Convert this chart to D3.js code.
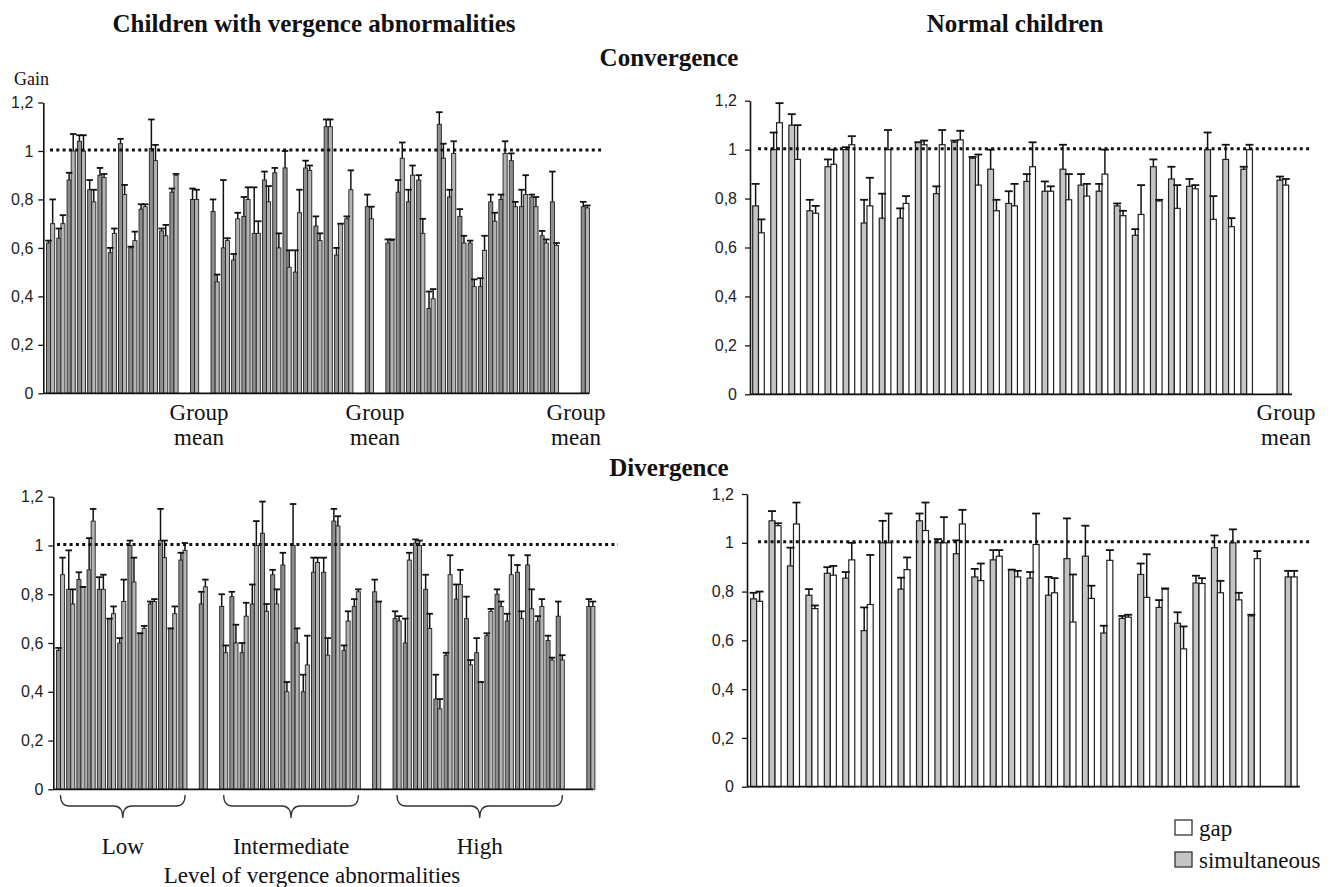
<!DOCTYPE html>
<html>
<head>
<meta charset="utf-8">
<script src="https://cdn.jsdelivr.net/npm/d3@7"></script>
<style>
    body { margin: 0; background: #fff; }
    svg { display: block; }
    .serif { font-family: "Liberation Serif", "Times New Roman", serif; fill: #111; }
    .assi text { font-family: "Liberation Sans", Arial, sans-serif; fill: #222; }
</style>
</head>
<body>
<svg id="grafico"></svg>
<script>
"use strict"
// gruppi dei bambini con anomalie di vergenza
const gruppi = ["Low", "Intermediate", "High"];
const numSoggetti = [13, 14, 17];
const tickY = [0, 0.2, 0.4, 0.6, 0.8, 1, 1.2];

// convergenza, bambini con anomalie (ogni gruppo seguito dalla sua media)
const convAnomSim = [0.62, 0.64, 0.88, 1.04, 0.84, 0.90, 0.58, 1.03, 0.60, 0.76, 1.01, 0.67, 0.83, 0.80,
    0.75, 0.60, 0.55, 0.73, 0.66, 0.88, 0.91, 0.93, 0.50, 0.93, 0.69, 1.10, 0.57, 0.72, 0.77,
    0.62, 0.83, 0.79, 0.88, 0.35, 1.11, 0.81, 0.73, 0.62, 0.44, 0.79, 0.80, 0.96, 0.77, 0.81, 0.65, 0.79, 0.77];
const convAnomSimErr = [0.63, 0.68, 0.91, 1.065, 0.88, 0.93, 0.60, 1.05, 0.605, 0.78, 1.13, 0.68, 0.845, 0.845,
    0.80, 0.88, 0.575, 0.81, 0.85, 0.915, 0.93, 1.0, 0.59, 0.96, 0.73, 1.13, 0.60, 0.73, 0.82,
    0.635, 0.88, 0.84, 0.90, 0.42, 1.16, 0.84, 0.76, 0.63, 0.475, 0.82, 0.82, 0.99, 0.84, 0.82, 0.67, 0.915, 0.79];
const convAnomGap = [0.70, 0.70, 1.0, 1.0, 0.79, 0.89, 0.66, 0.82, 0.63, 0.77, 0.96, 0.65, 0.90, 0.80,
    0.46, 0.63, 0.72, 0.80, 0.66, 0.79, 0.60, 0.52, 0.745, 0.92, 0.63, 1.10, 0.70, 0.84, 0.72,
    0.63, 0.97, 0.90, 0.66, 0.39, 0.97, 0.99, 0.62, 0.44, 0.59, 0.71, 0.99, 0.77, 0.82, 0.77, 0.62, 0.61, 0.765];
const convAnomGapErr = [0.80, 0.735, 1.07, 1.065, 0.84, 0.905, 0.68, 0.86, 0.667, 0.78, 1.025, 0.695, 0.905, 0.84,
    0.49, 0.64, 0.745, 0.85, 0.71, 0.855, 0.66, 0.59, 0.84, 0.94, 0.66, 1.13, 0.70, 0.92, 0.77,
    0.635, 1.035, 0.94, 0.72, 0.43, 1.03, 1.04, 0.65, 0.47, 0.65, 0.745, 1.04, 0.79, 0.90, 0.81, 0.635, 0.62, 0.775];

// divergenza, bambini con anomalie
const divAnomSim = [0.57, 0.82, 0.86, 0.90, 0.82, 0.70, 0.60, 1.0, 0.64, 0.76, 1.02, 0.66, 0.94, 0.76,
    0.75, 0.79, 0.56, 0.76, 1.05, 0.88, 0.92, 1.0, 0.40, 0.89, 0.89, 1.10, 0.57, 0.75, 0.81,
    0.70, 0.60, 1.01, 0.82, 0.37, 0.55, 0.78, 0.70, 0.56, 0.63, 0.80, 0.69, 0.89, 0.92, 0.69, 0.61, 0.71, 0.75];
const divAnomSimErr = [0.58, 0.98, 0.89, 1.03, 0.87, 0.70, 0.62, 1.02, 0.64, 0.77, 1.15, 0.66, 0.97, 0.81,
    0.80, 0.81, 0.60, 0.84, 1.18, 0.90, 0.97, 1.17, 0.47, 0.95, 0.95, 1.15, 0.59, 0.78, 0.86,
    0.73, 0.70, 1.025, 0.88, 0.47, 0.56, 0.84, 0.79, 0.62, 0.64, 0.82, 0.72, 0.92, 0.96, 0.71, 0.63, 0.77, 0.78];
const divAnomGap = [0.88, 0.76, 0.83, 1.10, 0.82, 0.72, 0.77, 0.85, 0.66, 0.77, 0.95, 0.72, 0.98, 0.83,
    0.56, 0.60, 0.71, 1.0, 0.73, 0.76, 0.40, 0.60, 0.51, 0.93, 0.55, 1.08, 0.69, 0.81, 0.77,
    0.69, 0.94, 1.0, 0.66, 0.33, 0.88, 0.84, 0.51, 0.44, 0.73, 0.75, 0.88, 0.70, 0.74, 0.75, 0.53, 0.53, 0.75];
const divAnomGapErr = [0.95, 0.82, 0.83, 1.15, 0.88, 0.75, 0.86, 0.95, 0.67, 0.78, 1.02, 0.75, 1.01, 0.86,
    0.59, 0.675, 0.765, 1.10, 0.76, 0.82, 0.44, 0.66, 0.63, 0.95, 0.62, 1.12, 0.73, 0.82, 0.77,
    0.71, 0.97, 1.02, 0.72, 0.37, 0.96, 0.90, 0.53, 0.44, 0.74, 0.77, 0.96, 0.73, 0.82, 0.78, 0.54, 0.55, 0.77];

// convergenza, bambini normali (28 soggetti + media)
const convNormSim = [0.77, 1.0, 1.10, 0.75, 0.93, 1.0, 0.70, 0.72, 0.72, 1.03, 0.82, 1.03, 0.965, 0.92,
    0.78, 0.87, 0.83, 0.92, 0.855, 0.83, 0.77, 0.65, 0.93, 0.88, 0.85, 1.0, 0.96, 0.92, 0.875];
const convNormSimErr = [0.86, 1.07, 1.145, 0.795, 0.96, 1.01, 0.795, 0.82, 0.76, 1.03, 0.85, 1.037, 0.97, 1.0,
    0.83, 0.90, 0.87, 1.02, 0.90, 0.86, 0.78, 0.675, 0.96, 0.93, 0.88, 1.07, 1.02, 0.93, 0.89];
const convNormGap = [0.66, 1.11, 0.96, 0.74, 0.94, 1.02, 0.77, 1.0, 0.78, 1.02, 1.02, 1.04, 0.855, 0.75,
    0.77, 0.93, 0.83, 0.795, 0.81, 0.90, 0.73, 0.735, 0.79, 0.76, 0.84, 0.715, 0.685, 1.0, 0.855];
const convNormGapErr = [0.715, 1.19, 1.10, 0.77, 1.0, 1.055, 0.885, 1.08, 0.81, 1.037, 1.08, 1.077, 0.98, 0.795,
    0.86, 1.03, 0.85, 0.90, 0.86, 1.0, 0.75, 0.855, 0.795, 0.855, 0.855, 0.81, 0.72, 1.02, 0.88];

// divergenza, bambini normali
const divNormSim = [0.77, 1.09, 0.905, 0.785, 0.875, 0.855, 0.64, 1.0, 0.81, 1.09, 1.0, 0.955, 0.86, 0.93,
    0.89, 0.855, 0.785, 0.935, 0.945, 0.63, 0.69, 0.87, 0.735, 0.67, 0.835, 0.98, 1.0, 0.70, 0.86];
const divNormSimErr = [0.795, 1.13, 0.98, 0.81, 0.90, 0.88, 0.735, 1.09, 0.857, 1.12, 1.015, 1.01, 0.893, 0.97,
    0.89, 0.88, 0.86, 1.10, 1.07, 0.66, 0.70, 0.915, 0.765, 0.715, 0.865, 1.03, 1.055, 0.705, 0.885];
const divNormGap = [0.76, 1.07, 1.077, 0.73, 0.867, 0.93, 0.747, 1.0, 0.89, 1.05, 1.0, 1.077, 0.845, 0.945,
    0.86, 0.993, 0.795, 0.675, 0.772, 0.928, 0.695, 0.776, 0.81, 0.565, 0.833, 0.795, 0.766, 0.935, 0.86];
const divNormGapErr = [0.80, 1.08, 1.165, 0.743, 0.905, 1.0, 0.95, 1.12, 0.94, 1.165, 1.105, 1.135, 0.915, 0.97,
    0.885, 1.12, 0.855, 0.87, 0.824, 0.97, 0.705, 0.953, 0.813, 0.657, 0.855, 0.844, 0.795, 0.966, 0.885];

const svg = d3.select("#grafico")
    .attr("width", 1337)
    .attr("height", 887);

// posizioni nella banda: gruppo, vuoto, media, vuoto ... (due vuoti prima dell'ultima media)
function slotAnomali() {
    const pos = [];
    let s = 0;
    numSoggetti.forEach(function (n, g) {
        for (let i = 0; i < n; i++) pos.push(s++);
        s += (g == numSoggetti.length - 1) ? 2 : 1;
        pos.push(s++);
        s += 1;
    });
    return pos;
}
const posAnomali = slotAnomali();
const posNormali = d3.range(28).concat([29]);

function pannello(cfg) {
    const g = svg.append("g");
    const scalaX = d3.scaleBand().domain(d3.range(cfg.nSlot)).range([cfg.x0, cfg.x1]);
    const scalaY = d3.scaleLinear().domain([0, 1.2]).range([cfg.yBase, cfg.yTop]);

    const dati = cfg.pos.map(function (p, i) {
        return { p: p, sim: cfg.sim[i], simErr: cfg.simErr[i], gap: cfg.gap[i], gapErr: cfg.gapErr[i] };
    });

    const barre = [];
    dati.forEach(function (d) {
        barre.push({ x: scalaX(d.p) + cfg.off, v: d.sim, e: d.simErr, fill: cfg.colSim });
        barre.push({ x: scalaX(d.p) + cfg.off + cfg.bw, v: d.gap, e: d.gapErr, fill: cfg.colGap });
    });

    g.selectAll("rect.barra")
        .data(barre)
        .enter()
        .append("rect")
        .attr("class", "barra")
        .attr("x", function (d) { return d.x })
        .attr("y", function (d) { return scalaY(d.v) })
        .attr("width", cfg.bw)
        .attr("height", function (d) { return scalaY(0) - scalaY(d.v) })
        .attr("fill", function (d) { return d.fill })
        .attr("stroke", "#222")
        .attr("stroke-width", cfg.sw);

    // barre di errore
    g.selectAll("line.err")
        .data(barre)
        .enter()
        .append("line")
        .attr("class", "err")
        .attr("x1", function (d) { return d.x + cfg.bw / 2 })
        .attr("x2", function (d) { return d.x + cfg.bw / 2 })
        .attr("y1", function (d) { return scalaY(d.v) })
        .attr("y2", function (d) { return scalaY(d.e) })
        .attr("stroke", "#111")
        .attr("stroke-width", 1.5);
    g.selectAll("line.cap")
        .data(barre)
        .enter()
        .append("line")
        .attr("class", "cap")
        .attr("x1", function (d) { return d.x + cfg.bw / 2 - cfg.cap / 2 })
        .attr("x2", function (d) { return d.x + cfg.bw / 2 + cfg.cap / 2 })
        .attr("y1", function (d) { return scalaY(d.e) })
        .attr("y2", function (d) { return scalaY(d.e) })
        .attr("stroke", "#111")
        .attr("stroke-width", 1.8);

    // linea tratteggiata a guadagno 1
    g.append("line")
        .attr("x1", cfg.dot0)
        .attr("x2", cfg.dot1)
        .attr("y1", scalaY(1) - 1)
        .attr("y2", scalaY(1) - 1)
        .attr("stroke", "#111")
        .attr("stroke-width", 3)
        .attr("stroke-dasharray", "3,3.3");

    const asseY = d3.axisLeft(scalaY)
        .tickValues(tickY)
        .tickFormat(function (d) { return String(d).replace(".", ",") })
        .tickSize(5)
        .tickSizeOuter(0)
        .tickPadding(cfg.pad);
    const gy = g.append("g")
        .attr("class", "assi")
        .attr("transform", `translate(${cfg.asse},0)`)
        .call(asseY);
    gy.select(".domain").attr("stroke", "#111").attr("stroke-width", 1.6);
    gy.selectAll(".tick line").attr("stroke", "#111").attr("stroke-width", 1.3);
    gy.selectAll(".tick text").attr("font-size", "16px");

    g.append("line")
        .attr("x1", cfg.asse)
        .attr("x2", cfg.xEnd)
        .attr("y1", scalaY(0))
        .attr("y2", scalaY(0))
        .attr("stroke", "#111")
        .attr("stroke-width", 1.8);

    return scalaX;
}

pannello({
    nSlot: 53, x0: 45.5, x1: 590.5, yBase: 393.3, yTop: 102.5, off: 1, bw: 4.1, cap: 6.5, sw: 0.9,
    pos: posAnomali, sim: convAnomSim, simErr: convAnomSimErr, gap: convAnomGap, gapErr: convAnomGapErr,
    colSim: "#8e8e8e", colGap: "#b4b4b4", asse: 43.3, xEnd: 589, dot0: 50, dot1: 604, pad: 5
});
const scalaDivAnom = pannello({
    nSlot: 53, x0: 55.5, x1: 596, yBase: 789.3, yTop: 496.7, off: 1, bw: 4.05, cap: 6.5, sw: 0.9,
    pos: posAnomali, sim: divAnomSim, simErr: divAnomSimErr, gap: divAnomGap, gapErr: divAnomGapErr,
    colSim: "#8e8e8e", colGap: "#b4b4b4", asse: 53.3, xEnd: 593, dot0: 57, dot1: 618, pad: 5
});
pannello({
    nSlot: 30, x0: 750, x1: 1292.4, yBase: 394.3, yTop: 100.7, off: 2.7, bw: 5.8, cap: 8, sw: 1.2,
    pos: posNormali, sim: convNormSim, simErr: convNormSimErr, gap: convNormGap, gapErr: convNormGapErr,
    colSim: "#c4c4c4", colGap: "#ffffff", asse: 750, xEnd: 1292, dot0: 758, dot1: 1311, pad: 8
});
pannello({
    nSlot: 30, x0: 747, x1: 1300, yBase: 786.7, yTop: 494, off: 3.6, bw: 6, cap: 8, sw: 1.2,
    pos: posNormali, sim: divNormSim, simErr: divNormSimErr, gap: divNormGap, gapErr: divNormGapErr,
    colSim: "#c4c4c4", colGap: "#ffffff", asse: 747, xEnd: 1300, dot0: 758, dot1: 1311, pad: 8
});

// titoli
function testo(x, y, t, size, bold, anchor) {
    return svg.append("text")
        .attr("class", "serif")
        .attr("x", x)
        .attr("y", y)
        .attr("text-anchor", anchor || "middle")
        .attr("font-size", size + "px")
        .attr("font-weight", bold ? "bold" : "normal")
        .text(t);
}
testo(314, 32, "Children with vergence abnormalities", 25, true);
testo(1015, 32, "Normal children", 25, true);
testo(669, 66, "Convergence", 25, true);
testo(669, 476, "Divergence", 25, true);
testo(14, 85, "Gain", 18, false, "start");

[199, 375, 576, 1286].forEach(function (cx) {
    testo(cx, 420, "Group", 23, false);
    testo(cx, 445, "mean", 23, false);
});

// graffe sotto i gruppi
let inizio = 0;
numSoggetti.forEach(function (n, i) {
    const xa = scalaDivAnom(posAnomali[inizio]) + 5;
    const xb = scalaDivAnom(posAnomali[inizio + n - 1]) + scalaDivAnom.bandwidth() - 3;
    const xm = (xa + xb) / 2;
    const y0 = 795, y1 = 806, y2 = 818;
    svg.append("path")
        .attr("d", `M${xa},${y0} Q${xa},${y1} ${xa + 9},${y1} L${xm - 9},${y1} Q${xm},${y1} ${xm},${y2}`
            + ` Q${xm},${y1} ${xm + 9},${y1} L${xb - 9},${y1} Q${xb},${y1} ${xb},${y0}`)
        .attr("fill", "none")
        .attr("stroke", "#333")
        .attr("stroke-width", 1.3);
    testo(xm, 854, gruppi[i], 23, false);
    inizio += n + 1;
});
testo(312, 883, "Level of vergence abnormalities", 23, false);

// legenda
const legenda = [{ nome: "gap", col: "#ffffff" }, { nome: "simultaneous", col: "#c4c4c4" }];
legenda.forEach(function (d, i) {
    svg.append("rect")
        .attr("x", 1175)
        .attr("y", 820 + i * 32)
        .attr("width", 17)
        .attr("height", 15)
        .attr("fill", d.col)
        .attr("stroke", "#333")
        .attr("stroke-width", 1.3);
    testo(1199, 836 + i * 32, d.nome, 23, false, "start");
});
</script>
</body>
</html>
